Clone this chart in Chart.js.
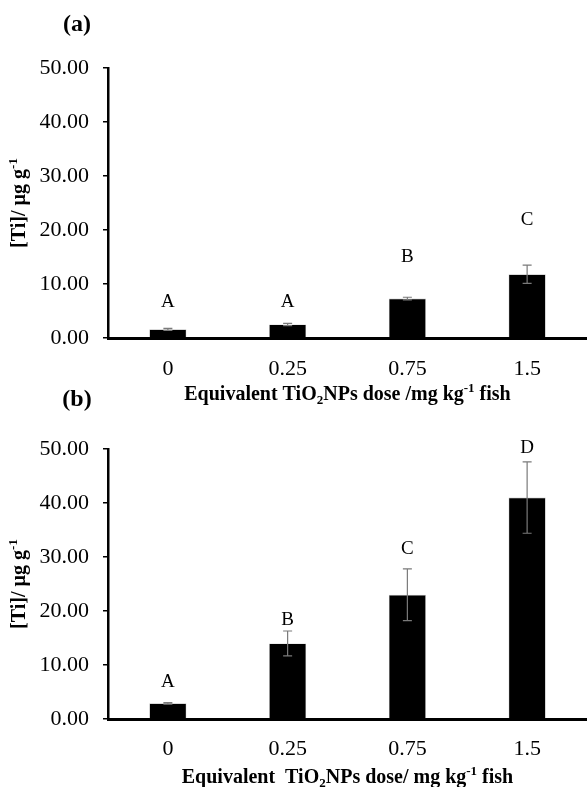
<!DOCTYPE html>
<html>
<head>
<meta charset="utf-8">
<script src="https://cdn.jsdelivr.net/npm/chart.js@4.4.1/dist/chart.umd.min.js"></script>
<style>
  html, body { margin: 0; padding: 0; background: #fff; }
  #wrap { position: relative; width: 587px; height: 787px; overflow: hidden; }
  .panel { position: absolute; left: 0; width: 587px; }
  #panelA { top: 0; height: 410px; }
  #panelB { top: 380px; height: 407px; }
</style>
</head>
<body>
<div id="wrap">
  <div class="panel" id="panelA"><canvas id="chartA" width="587" height="410"></canvas></div>
  <div class="panel" id="panelB"><canvas id="chartB" width="587" height="407"></canvas></div>
</div>
<script>
// Equivalent TiO2 nanoparticle dose groups (mg kg-1 fish)
const doses = ['0', '0.25', '0.75', '1.5'];

// Panel (a): mean [Ti] and error (µg g-1), with significance letters
const tiMeanA = [1.6, 2.5, 7.3, 11.8];
const tiErrA = [0.2, 0.2, 0.25, 1.7];
const groupLettersA = ['A', 'A', 'B', 'C'];
const letterLevelA = [6.7, 6.7, 15.0, 21.8];

// Panel (b): mean [Ti] and error (µg g-1), with significance letters
const tiMeanB = [2.9, 14.0, 23.0, 41.0];
const tiErrB = [0.15, 2.3, 4.8, 6.6];
const groupLettersB = ['A', 'B', 'C', 'D'];
const letterLevelB = [6.9, 18.3, 31.5, 50.2];

// y-axis ticks
const yMin = 0, yMax = 50, yStep = 10;

const SERIF = "'Liberation Serif', 'Times New Roman', serif";

// Draw a run of bold text with sub/superscript pieces, centred on (cx, cy)
function drawRich(ctx, parts, cx, cy, size) {
  const small = Math.round(size * 0.65);
  let total = 0;
  parts.forEach(p => {
    ctx.font = 'bold ' + (p.s ? small : size) + 'px ' + SERIF;
    p.w = ctx.measureText(p.t).width;
    total += p.w;
  });
  let x = cx - total / 2;
  ctx.textAlign = 'left';
  ctx.textBaseline = 'middle';
  parts.forEach(p => {
    ctx.font = 'bold ' + (p.s ? small : size) + 'px ' + SERIF;
    let dy = 0;
    if (p.s === 'sub') dy = size * 0.3;
    if (p.s === 'sup') dy = -size * 0.33;
    ctx.fillText(p.t, x, cy + dy);
    x += p.w;
  });
}

const yTitleParts = [{ t: '[Ti]/ µg g' }, { t: '-1', s: 'sup' }];

function makeDecor(cfg) {
  return {
    id: 'decor',
    afterDatasetsDraw(chart) {
      const ctx = chart.ctx;
      const xs = chart.scales.x, ys = chart.scales.y;
      const area = chart.chartArea;
      ctx.save();
      // error bars
      ctx.strokeStyle = '#7a7a7a';
      ctx.lineWidth = 1.2;
      cfg.means.forEach((m, i) => {
        const x = xs.getPixelForValue(i);
        const yT = ys.getPixelForValue(m + cfg.errs[i]);
        const yB = ys.getPixelForValue(m - cfg.errs[i]);
        ctx.beginPath();
        ctx.moveTo(x, yT); ctx.lineTo(x, yB);
        ctx.moveTo(x - 4.5, yT); ctx.lineTo(x + 4.5, yT);
        ctx.moveTo(x - 4.5, yB); ctx.lineTo(x + 4.5, yB);
        ctx.stroke();
      });
      // significance letters
      ctx.fillStyle = '#000';
      ctx.font = '19px ' + SERIF;
      ctx.textAlign = 'center';
      ctx.textBaseline = 'middle';
      cfg.letters.forEach((l, i) => {
        ctx.fillText(l, xs.getPixelForValue(i), ys.getPixelForValue(cfg.letterLevels[i]));
      });
      // panel tag
      ctx.font = 'bold 24px ' + SERIF;
      ctx.fillText(cfg.tag, 77, cfg.tagY);
      // x-axis title
      drawRich(ctx, cfg.xTitle, (area.left + area.right) / 2, area.bottom + cfg.xTitleGap, 20);
      // y-axis title
      ctx.save();
      ctx.translate(20, (area.top + area.bottom) / 2);
      ctx.rotate(-Math.PI / 2);
      drawRich(ctx, yTitleParts, 0, 0, 20);
      ctx.restore();
      ctx.restore();
    }
  };
}

function buildChart(id, cfg) {
  return new Chart(document.getElementById(id), {
    type: 'bar',
    data: {
      labels: doses,
      datasets: [{
        data: cfg.means,
        backgroundColor: '#000',
        borderColor: '#bdbdbd',
        borderWidth: 0.6,
        barPercentage: 0.31,
        categoryPercentage: 1.0
      }]
    },
    options: {
      responsive: false,
      animation: false,
      events: [],
      layout: { padding: { top: cfg.padTop, left: 0, right: 0, bottom: 0 } },
      plugins: { legend: { display: false }, tooltip: { enabled: false } },
      scales: {
        x: {
          grid: { display: false, drawTicks: false },
          border: { display: true, color: '#000', width: 3 },
          ticks: {
            color: '#000',
            font: { family: SERIF, size: 22 },
            padding: cfg.xTickPad,
            maxRotation: 0
          },
          afterFit(scale) { scale.height = cfg.xHeight; }
        },
        y: {
          min: yMin, max: yMax,
          grid: { display: true, drawOnChartArea: false, drawTicks: true, tickLength: 5, color: '#000', lineWidth: 1.5 },
          border: { display: true, color: '#000', width: 2.5 },
          ticks: {
            stepSize: yStep,
            color: '#000',
            font: { family: SERIF, size: 22 },
            padding: 14,
            callback: v => Number(v).toFixed(2)
          },
          afterFit(scale) { scale.width = 108; }
        }
      }
    },
    plugins: [makeDecor(cfg)]
  });
}

buildChart('chartA', {
  means: tiMeanA, errs: tiErrA, letters: groupLettersA, letterLevels: letterLevelA,
  tag: '(a)', tagY: 25, padTop: 68, xHeight: 72, xTickPad: 18, xTitleGap: 57,
  xTitle: [{ t: 'Equivalent TiO' }, { t: '2', s: 'sub' }, { t: 'NPs dose /mg kg' }, { t: '-1', s: 'sup' }, { t: ' fish' }]
});

buildChart('chartB', {
  means: tiMeanB, errs: tiErrB, letters: groupLettersB, letterLevels: letterLevelB,
  tag: '(b)', tagY: 20, padTop: 69, xHeight: 68, xTickPad: 17, xTitleGap: 59,
  xTitle: [{ t: 'Equivalent  TiO' }, { t: '2', s: 'sub' }, { t: 'NPs dose/ mg kg' }, { t: '-1', s: 'sup' }, { t: ' fish' }]
});
</script>
</body>
</html>
